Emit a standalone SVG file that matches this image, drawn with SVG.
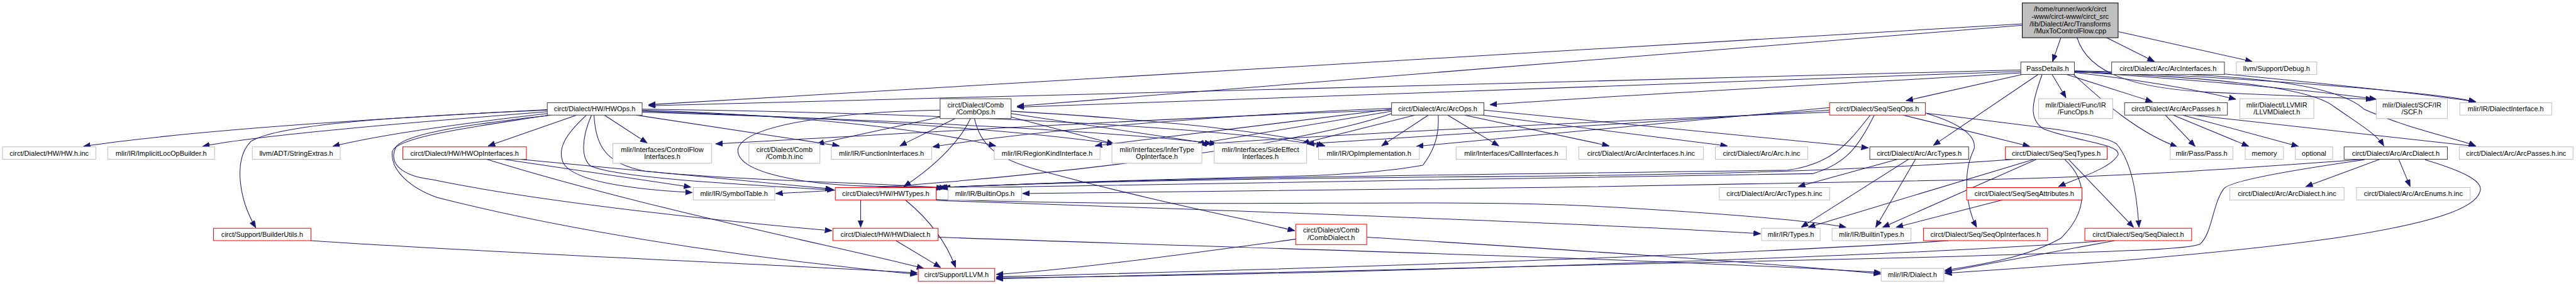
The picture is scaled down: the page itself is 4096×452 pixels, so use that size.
<svg xmlns="http://www.w3.org/2000/svg" width="4096" height="452" viewBox="0 0 4096 452">
<style>
.n rect{fill:#fff;stroke-width:1.3}
.d rect{stroke:#404040}
.g rect{stroke:#bfbfbf}
.r rect{stroke:#ff0000}
#R rect{fill:#bfbfbf;stroke:#000}
text{font-family:"Liberation Sans",Arial,sans-serif;font-size:14px;fill:#000;text-anchor:middle}
.e path{fill:none;stroke:#191970;stroke-width:1.3;marker-end:url(#a)}
</style>
<defs>
<marker id="a" markerUnits="userSpaceOnUse" markerWidth="16" markerHeight="12" refX="14" refY="5.5" orient="auto" viewBox="0 0 16 12"><path d="M0,0 L14,5.5 L0,11 z" fill="#191970" stroke="#191970" stroke-width="1"/></marker>
</defs>
<rect width="4096" height="452" fill="#fff"/>
<g transform="scale(0.78967)">
<g class="e" id="edges">
<path d="M4150,75 L4133,124"/>
<path d="M4240,75 L4338,124"/>
<path d="M4266,64 L4535,124"/>
<path d="M4072,48 L1306,211"/>
<path d="M4072,51 L2048,214"/>
<path d="M4182,75 C4205,150 4300,178 4450,186 C4600,192 4700,196 4778,200"/>
<path d="M4069,141 L1306,213"/>
<path d="M4069,144 L2048,216"/>
<path d="M4069,147 C3700,170 3200,195 3000,211"/>
<path d="M4072,150 L3838,203"/>
<path d="M4104,150 L3893,293"/>
<path d="M4132,150 L4160,197"/>
<path d="M4161,150 L4334,205"/>
<path d="M4177,146 C4300,160 4420,180 4502,200"/>
<path d="M4177,144 C4400,160 4650,180 4785,200"/>
<path d="M4177,143 C4500,155 4900,185 4985,205"/>
<path d="M4479,149 C4700,170 4900,192 4985,205"/>
<path d="M4177,145 C4450,155 4650,175 4700,215 C4750,250 4785,270 4800,294"/>
<path d="M4177,143 C4500,148 4700,165 4760,220 C4850,260 4950,280 4985,294"/>
<path d="M4112,150 C4090,210 4085,240 4115,260 C4180,285 4270,290 4265,312 C4250,340 4180,360 4145,376"/>
<path d="M4175,150 C4230,200 4300,265 4384,296"/>
<path d="M1102,221 C850,234 400,260 168,295"/>
<path d="M1102,225 C850,245 520,272 408,295"/>
<path d="M1102,229 C900,252 750,275 670,295"/>
<path d="M1102,222 C800,235 560,250 505,285 C470,320 480,400 515,459"/>
<path d="M1161,232 L983,294"/>
<path d="M1181,232 C1140,270 1120,300 1135,330 C1160,370 1300,383 1394,388"/>
<path d="M1191,232 C1170,280 1170,320 1190,335 C1250,360 1500,372 1680,383"/>
<path d="M1196,232 C1200,290 1215,330 1300,345 C1500,365 1800,370 1905,379"/>
<path d="M1217,232 L1303,288"/>
<path d="M1281,232 L1690,294"/>
<path d="M1293,222 C1600,232 1850,258 2005,294"/>
<path d="M1293,224 C1700,238 2050,262 2243,290"/>
<path d="M1293,226 C1800,242 2250,265 2450,290"/>
<path d="M1293,220 C1900,228 2450,255 2665,294"/>
<path d="M1110,232 C950,250 820,268 798,295 C780,330 810,355 870,362 C1100,410 1500,450 1675,465"/>
<path d="M1105,232 C960,255 800,275 790,305 C785,345 830,380 880,398 C1200,480 1600,530 1847,553"/>
<path d="M1893,236 L1645,290"/>
<path d="M1893,222 C1700,225 1500,250 1486,300 C1480,345 1600,370 1740,375 C1800,376 1860,377 1900,379"/>
<path d="M1923,239 L1812,294"/>
<path d="M1954,239 C1935,280 1890,330 1820,376"/>
<path d="M1962,239 C1975,290 2000,320 2100,345 C2300,400 2500,440 2607,465"/>
<path d="M2036,236 L2243,290"/>
<path d="M2036,229 L2440,290"/>
<path d="M2036,224 C2300,240 2550,262 2668,294"/>
<path d="M2849,232 L2622,289"/>
<path d="M2876,232 L2782,294"/>
<path d="M2896,232 C2898,270 2890,300 2865,333 C2800,345 2700,352 2610,355 C2300,362 2000,372 1900,379"/>
<path d="M2915,232 L3018,294"/>
<path d="M2949,232 L3240,294"/>
<path d="M2985,232 L3478,294"/>
<path d="M2988,222 L3762,298"/>
<path d="M2802,218 C2500,230 2100,260 1878,296"/>
<path d="M2802,220 L2205,294"/>
<path d="M2802,224 L2410,290"/>
<path d="M2802,222 C2400,235 1800,270 1441,290"/>
<path d="M2802,229 C2600,300 2000,370 1562,390"/>
<path d="M3766,232 C3720,290 3690,330 3600,343 C3300,348 2400,355 1890,378"/>
<path d="M3774,232 C3745,290 3720,330 3650,350 C3300,360 2400,368 1897,379"/>
<path d="M3832,232 L4087,295"/>
<path d="M3880,229 C3950,250 3980,275 3975,300 C3950,350 3960,420 3980,458"/>
<path d="M3877,228 C4100,255 4230,268 4262,290 C4295,330 4303,400 4307,458"/>
<path d="M3684,217 L2852,295"/>
<path d="M3684,222 L2632,290"/>
<path d="M3684,226 C3200,245 2700,270 2416,291"/>
<path d="M4360,232 L4420,295"/>
<path d="M4376,232 L4528,295"/>
<path d="M4395,232 L4628,295"/>
<path d="M4417,232 L4985,295"/>
<path d="M1014,321 L1391,377"/>
<path d="M1047,321 L1676,381"/>
<path d="M980,321 C1300,420 1700,500 1860,541"/>
<path d="M1733,403 L1733,458"/>
<path d="M1823,403 C1880,450 1910,500 1924,539"/>
<path d="M1885,404 C2500,425 3200,450 3545,471"/>
<path d="M1885,402 C2400,420 2900,400 3200,415 C3450,428 3650,445 3717,458"/>
<path d="M1804,485 L1894,539"/>
<path d="M1888,478 C2500,500 3300,520 3787,549"/>
<path d="M625,485 C1000,510 1500,530 1847,550"/>
<path d="M2752,478 C3100,500 3500,525 3787,552"/>
<path d="M2609,482 C2400,510 2150,545 2006,553"/>
<path d="M3821,321 L3621,376"/>
<path d="M3843,321 L3627,458"/>
<path d="M3857,321 L3777,458"/>
<path d="M4057,321 C3800,340 3500,352 3000,356 C2500,360 2100,368 1893,378"/>
<path d="M4096,321 L3641,458"/>
<path d="M4101,321 L3791,458"/>
<path d="M4165,321 L4296,458"/>
<path d="M4157,321 C4200,360 4210,420 4150,480 C4080,520 3980,535 3916,545"/>
<path d="M4032,403 L3818,458"/>
<path d="M3924,485 C3400,520 2500,545 2006,558"/>
<path d="M4258,485 L3916,548"/>
<path d="M4241,485 C3800,520 2600,555 2006,560"/>
<path d="M4792,321 L4643,376"/>
<path d="M4830,321 L4853,376"/>
<path d="M4761,322 C4600,345 4490,365 4478,380 C4455,410 4455,470 4430,492 C4400,505 4200,508 3900,518 C3200,535 2500,553 2006,562"/>
<path d="M4883,322 C4960,345 5000,365 4994,385 C4985,420 4900,450 4700,480 C4450,515 4150,535 3916,551"/>
<path d="M4761,321 C4500,340 4300,355 4000,362 C3400,375 2600,386 2059,390"/>
</g>
<g id="R" class="n"><rect x="4072" y="6" width="193" height="70"/><text x="4168.5" y="23.4">/home/runner/work/circt</text><text x="4168.5" y="38.1">-www/circt-www/circt_src</text><text x="4168.5" y="52.8">/lib/Dialect/Arc/Transforms</text><text x="4168.5" y="67.5">/MuxToControlFlow.cpp</text></g>
<g id="PD" class="n d"><rect x="4069" y="125" width="108" height="25"/><text x="4123" y="142.5">PassDetails.h</text></g>
<g id="AI" class="n d"><rect x="4252" y="125" width="227" height="25"/><text x="4365.5" y="142.5">circt/Dialect/Arc/ArcInterfaces.h</text></g>
<g id="DBG" class="n g"><rect x="4503" y="125" width="162" height="25"/><text x="4584" y="142.5">llvm/Support/Debug.h</text></g>
<g id="HWO" class="n d"><rect x="1102" y="207" width="191" height="25"/><text x="1197.5" y="224.5">circt/Dialect/HW/HWOps.h</text></g>
<g id="CO" class="n d"><rect x="1893" y="199" width="143" height="40"/><text x="1964.5" y="216">circt/Dialect/Comb</text><text x="1964.5" y="231">/CombOps.h</text></g>
<g id="AO" class="n d"><rect x="2802" y="207" width="186" height="25"/><text x="2895" y="224.5">circt/Dialect/Arc/ArcOps.h</text></g>
<g id="SO" class="n r"><rect x="3684" y="207" width="193" height="25"/><text x="3780.5" y="224.5">circt/Dialect/Seq/SeqOps.h</text></g>
<g id="FO" class="n g"><rect x="4105" y="199" width="149" height="40"/><text x="4179.5" y="216">mlir/Dialect/Func/IR</text><text x="4179.5" y="231">/FuncOps.h</text></g>
<g id="AP" class="n d"><rect x="4278" y="207" width="207" height="25"/><text x="4381.5" y="224.5">circt/Dialect/Arc/ArcPasses.h</text></g>
<g id="LL" class="n g"><rect x="4510" y="199" width="149" height="40"/><text x="4584.5" y="216">mlir/Dialect/LLVMIR</text><text x="4584.5" y="231">/LLVMDialect.h</text></g>
<g id="SCF" class="n g"><rect x="4785" y="199" width="143" height="40"/><text x="4856.5" y="216">mlir/Dialect/SCF/IR</text><text x="4856.5" y="231">/SCF.h</text></g>
<g id="DI" class="n g"><rect x="4953" y="207" width="185" height="25"/><text x="5045.5" y="224.5">mlir/IR/DialectInterface.h</text></g>
<g id="HWinc" class="n g"><rect x="5" y="296" width="188" height="25"/><text x="99" y="313.5">circt/Dialect/HW/HW.h.inc</text></g>
<g id="ILB" class="n g"><rect x="217" y="296" width="215" height="25"/><text x="324.5" y="313.5">mlir/IR/ImplicitLocOpBuilder.h</text></g>
<g id="SE" class="n g"><rect x="508" y="296" width="177" height="25"/><text x="596.5" y="313.5">llvm/ADT/StringExtras.h</text></g>
<g id="HOI" class="n r"><rect x="811" y="296" width="249" height="25"/><text x="935.5" y="313.5">circt/Dialect/HW/HWOpInterfaces.h</text></g>
<g id="CFI" class="n g"><rect x="1234" y="289" width="199" height="40"/><text x="1333.5" y="306">mlir/Interfaces/ControlFlow</text><text x="1333.5" y="321">Interfaces.h</text></g>
<g id="CHI" class="n g"><rect x="1508" y="289" width="143" height="40"/><text x="1579.5" y="306">circt/Dialect/Comb</text><text x="1579.5" y="321">/Comb.h.inc</text></g>
<g id="FI" class="n g"><rect x="1674" y="296" width="202" height="25"/><text x="1775" y="313.5">mlir/IR/FunctionInterfaces.h</text></g>
<g id="RKI" class="n g"><rect x="2002" y="296" width="213" height="25"/><text x="2108.5" y="313.5">mlir/IR/RegionKindInterface.h</text></g>
<g id="ITI" class="n g"><rect x="2239" y="289" width="181" height="40"/><text x="2329.5" y="306">mlir/Interfaces/InferType</text><text x="2329.5" y="321">OpInterface.h</text></g>
<g id="SEI" class="n g"><rect x="2445" y="289" width="186" height="40"/><text x="2538" y="306">mlir/Interfaces/SideEffect</text><text x="2538" y="321">Interfaces.h</text></g>
<g id="OI" class="n g"><rect x="2655" y="296" width="203" height="25"/><text x="2756.5" y="313.5">mlir/IR/OpImplementation.h</text></g>
<g id="CI" class="n g"><rect x="2932" y="296" width="222" height="25"/><text x="3043" y="313.5">mlir/Interfaces/CallInterfaces.h</text></g>
<g id="AIinc" class="n g"><rect x="3179" y="296" width="251" height="25"/><text x="3304.5" y="313.5">circt/Dialect/Arc/ArcInterfaces.h.inc</text></g>
<g id="Ainc" class="n g"><rect x="3454" y="296" width="186" height="25"/><text x="3547" y="313.5">circt/Dialect/Arc/Arc.h.inc</text></g>
<g id="AT" class="n d"><rect x="3765" y="296" width="199" height="25"/><text x="3864.5" y="313.5">circt/Dialect/Arc/ArcTypes.h</text></g>
<g id="ST" class="n r"><rect x="4038" y="296" width="205" height="25"/><text x="4140.5" y="313.5">circt/Dialect/Seq/SeqTypes.h</text></g>
<g id="PS" class="n g"><rect x="4370" y="296" width="126" height="25"/><text x="4433" y="313.5">mlir/Pass/Pass.h</text></g>
<g id="MEM" class="n g"><rect x="4521" y="296" width="77" height="25"/><text x="4559.5" y="313.5">memory</text></g>
<g id="OPT" class="n g"><rect x="4622" y="296" width="75" height="25"/><text x="4659.5" y="313.5">optional</text></g>
<g id="AD" class="n d"><rect x="4720" y="296" width="208" height="25"/><text x="4824" y="313.5">circt/Dialect/Arc/ArcDialect.h</text></g>
<g id="APinc" class="n g"><rect x="4952" y="296" width="229" height="25"/><text x="5066.5" y="313.5">circt/Dialect/Arc/ArcPasses.h.inc</text></g>
<g id="SYM" class="n g"><rect x="1396" y="378" width="164" height="25"/><text x="1478" y="395.5">mlir/IR/SymbolTable.h</text></g>
<g id="HWT" class="n r"><rect x="1682" y="378" width="203" height="25"/><text x="1783.5" y="395.5">circt/Dialect/HW/HWTypes.h</text></g>
<g id="BO" class="n g"><rect x="1909" y="378" width="148" height="25"/><text x="1983" y="395.5">mlir/IR/BuiltinOps.h</text></g>
<g id="ATinc" class="n g"><rect x="3462" y="378" width="222" height="25"/><text x="3573" y="395.5">circt/Dialect/Arc/ArcTypes.h.inc</text></g>
<g id="SA" class="n r"><rect x="3960" y="378" width="232" height="25"/><text x="4076" y="395.5">circt/Dialect/Seq/SeqAttributes.h</text></g>
<g id="ADinc" class="n g"><rect x="4490" y="378" width="230" height="25"/><text x="4605" y="395.5">circt/Dialect/Arc/ArcDialect.h.inc</text></g>
<g id="AEinc" class="n g"><rect x="4745" y="378" width="229" height="25"/><text x="4859.5" y="395.5">circt/Dialect/Arc/ArcEnums.h.inc</text></g>
<g id="BU" class="n r"><rect x="430" y="460" width="196" height="25"/><text x="528" y="477.5">circt/Support/BuilderUtils.h</text></g>
<g id="HWD" class="n r"><rect x="1677" y="460" width="212" height="25"/><text x="1783" y="477.5">circt/Dialect/HW/HWDialect.h</text></g>
<g id="CD" class="n r"><rect x="2609" y="452" width="143" height="41"/><text x="2680.5" y="469">circt/Dialect/Comb</text><text x="2680.5" y="484">/CombDialect.h</text></g>
<g id="TY" class="n g"><rect x="3547" y="460" width="118" height="25"/><text x="3606" y="477.5">mlir/IR/Types.h</text></g>
<g id="BT" class="n g"><rect x="3689" y="460" width="159" height="25"/><text x="3768.5" y="477.5">mlir/IR/BuiltinTypes.h</text></g>
<g id="SOI" class="n r"><rect x="3873" y="460" width="250" height="25"/><text x="3998" y="477.5">circt/Dialect/Seq/SeqOpInterfaces.h</text></g>
<g id="SD" class="n r"><rect x="4198" y="460" width="215" height="25"/><text x="4305.5" y="477.5">circt/Dialect/Seq/SeqDialect.h</text></g>
<g id="LLVM" class="n r"><rect x="1849" y="541" width="154" height="26"/><text x="1926" y="559">circt/Support/LLVM.h</text></g>
<g id="DIA" class="n g"><rect x="3788" y="541" width="126" height="26"/><text x="3851" y="559">mlir/IR/Dialect.h</text></g>
</g>
</svg>
